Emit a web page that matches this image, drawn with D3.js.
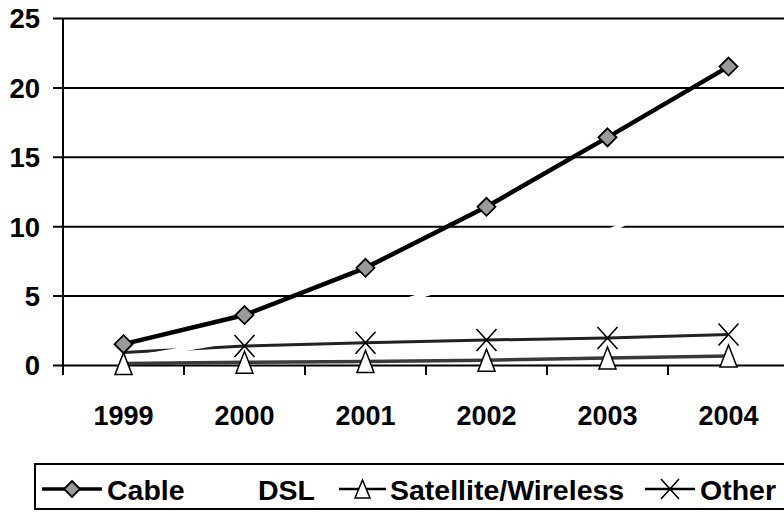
<!DOCTYPE html>
<html>
<head>
<meta charset="utf-8">
<script src="https://cdn.jsdelivr.net/npm/d3@7"></script>
<style>
  html, body { margin: 0; padding: 0; background: #fff; }
  svg { display: block; font-family: "Liberation Sans", Arial, sans-serif; font-weight: bold; }
</style>
</head>
<body>
<svg id="chart" width="784" height="516"></svg>
<script>
// Broadband subscribers by technology (millions)
const years = ["1999", "2000", "2001", "2002", "2003", "2004"];
const cable = [1.5, 3.6, 7.0, 11.4, 16.4, 21.5];
const dsl = [0.4, 1.9, 3.8, 6.4, 9.6, 13.8];
const satellite = [0.1, 0.2, 0.25, 0.35, 0.5, 0.65];
const other = [0.9, 1.37, 1.6, 1.8, 1.95, 2.2];
const yTicks = [0, 5, 10, 15, 20, 25];
const seriesNames = ["Cable", "DSL", "Satellite/Wireless", "Other"];

const svg = d3.select("#chart");
const plot = { left: 63, right: 789, top: 18, bottom: 365 };

const x = d3.scaleBand().domain(years).range([plot.left, plot.right]).paddingInner(0).paddingOuter(0);
const cx = d => x(d) + x.bandwidth() / 2;
const y = d3.scaleLinear().domain([0, 25]).range([plot.bottom, plot.top]);

// horizontal gridlines with short outward ticks
const yAxis = d3.axisLeft(y).tickValues(yTicks)
  .tickSize(-(784 - plot.left + 10)).tickSizeOuter(0).tickPadding(23).tickFormat(d3.format("d"));
const gy = svg.append("g").attr("transform", `translate(${plot.left},0)`).call(yAxis);
gy.select(".domain").remove();
gy.selectAll(".tick line").attr("x1", -10).attr("stroke", "#000").attr("stroke-width", 2);
gy.selectAll(".tick text").attr("font-size", 27.5).attr("fill", "#000").attr("dy", "0.36em")
  .attr("font-family", "'Liberation Sans', Arial, sans-serif").attr("font-weight", "bold");

// vertical axis line
svg.append("line").attr("x1", plot.left).attr("x2", plot.left)
  .attr("y1", plot.top).attr("y2", plot.bottom + 10).attr("stroke", "#000").attr("stroke-width", 2);

// category tick marks at band boundaries
svg.append("g").selectAll("line").data(years.slice(1)).join("line")
  .attr("x1", d => x(d)).attr("x2", d => x(d))
  .attr("y1", plot.bottom).attr("y2", plot.bottom + 10)
  .attr("stroke", "#000").attr("stroke-width", 2);

// category labels
svg.append("g").selectAll("text").data(years).join("text")
  .attr("x", d => cx(d)).attr("y", 425).attr("text-anchor", "middle")
  .attr("font-size", 27).attr("fill", "#000").text(d => d);

const line = d3.line().x((v, i) => cx(years[i])).y(v => y(v));

// series lines
svg.append("path").attr("d", line(cable)).attr("fill", "none").attr("stroke", "#000").attr("stroke-width", 4.5);
svg.append("path").attr("d", line(satellite)).attr("fill", "none").attr("stroke", "#3a3a3a").attr("stroke-width", 3.5);
svg.append("path").attr("d", line(other)).attr("fill", "none").attr("stroke", "#222").attr("stroke-width", 3);
svg.append("path").attr("d", line(dsl)).attr("fill", "none").attr("stroke", "#fff").attr("stroke-width", 4.5);

// marker shapes
function diamond(g, px, py, s) {
  g.append("path")
    .attr("d", `M${px},${py - s}L${px + s},${py}L${px},${py + s}L${px - s},${py}Z`)
    .attr("fill", "#9a9a9a").attr("stroke", "#000").attr("stroke-width", 1.8);
}
function triangle(g, px, py, w, h) {
  g.append("path")
    .attr("d", `M${px},${py - h / 2}L${px + w / 2},${py + h / 2}L${px - w / 2},${py + h / 2}Z`)
    .attr("fill", "#fff").attr("stroke", "#000").attr("stroke-width", 1.5);
}
function cross(g, px, py, w, h) {
  g.append("path")
    .attr("d", `M${px - w / 2},${py - h / 2}L${px + w / 2},${py + h / 2}M${px + w / 2},${py - h / 2}L${px - w / 2},${py + h / 2}`)
    .attr("fill", "none").attr("stroke", "#000").attr("stroke-width", 1.6);
}

const markers = svg.append("g");
satellite.forEach((v, i) => triangle(markers, cx(years[i]), y(v), 17, 22));
other.forEach((v, i) => { if (i > 0) cross(markers, cx(years[i]), y(v), 20, 22); });
cable.forEach((v, i) => diamond(markers, cx(years[i]), y(v), 9));

// legend
const lg = svg.append("g");
lg.append("rect").attr("x", 35).attr("y", 464).attr("width", 800).attr("height", 45)
  .attr("fill", "none").attr("stroke", "#000").attr("stroke-width", 2);
const ly = 489;
const legendItems = [
  { name: seriesNames[0], x0: 42, x1: 102, tx: 107 },
  { name: seriesNames[1], x0: null, x1: null, tx: 258 },
  { name: seriesNames[2], x0: 339, x1: 386, tx: 390 },
  { name: seriesNames[3], x0: 645, x1: 695, tx: 700 }
];
legendItems.forEach((it, k) => {
  if (it.x0 !== null) {
    lg.append("line").attr("x1", it.x0).attr("x2", it.x1).attr("y1", ly).attr("y2", ly)
      .attr("stroke", "#000").attr("stroke-width", k === 0 ? 3.5 : 2.5);
    const mx = (it.x0 + it.x1) / 2;
    if (k === 0) diamond(lg, mx, ly, 8);
    if (k === 2) triangle(lg, mx, ly, 15, 18);
    if (k === 3) cross(lg, mx, ly, 18, 20);
  }
  lg.append("text").attr("x", it.tx).attr("y", 500).attr("font-size", 28.5)
    .attr("fill", "#000").text(it.name);
});
</script>
</body>
</html>
